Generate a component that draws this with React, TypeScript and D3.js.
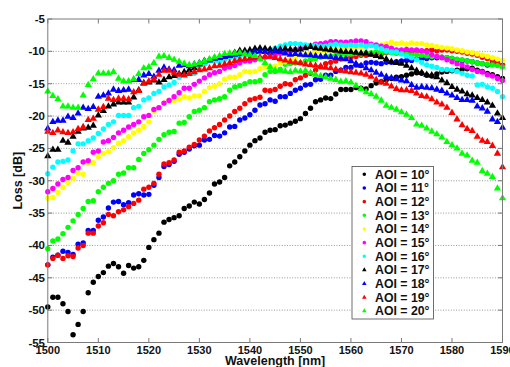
import React, { useEffect, useRef } from 'react';
import * as d3 from 'd3';

// wavelength samples [nm]
const wavelengths = [
  1500, 1501, 1502, 1503, 1504, 1505, 1506, 1507, 1508, 1509,
  1510, 1511, 1512, 1513, 1514, 1515, 1516, 1517, 1518, 1519,
  1520, 1521, 1522, 1523, 1524, 1525, 1526, 1527, 1528, 1529,
  1530, 1531, 1532, 1533, 1534, 1535, 1536, 1537, 1538, 1539,
  1540, 1541, 1542, 1543, 1544, 1545, 1546, 1547, 1548, 1549,
  1550, 1551, 1552, 1553, 1554, 1555, 1556, 1557, 1558, 1559,
  1560, 1561, 1562, 1563, 1564, 1565, 1566, 1567, 1568, 1569,
  1570, 1571, 1572, 1573, 1574, 1575, 1576, 1577, 1578, 1579,
  1580, 1581, 1582, 1583, 1584, 1585, 1586, 1587, 1588, 1589,
  1590,
];

// loss [dB] per angle of incidence
const aoi10 = [
  -49.5, -48.0, -48.0, -49.0, -50.2, -53.8, -52.2, -50.2, -47.3, -45.7,
  -44.8, -44.2, -43.2, -42.8, -43.3, -44.3, -43.1, -43.5, -43.3, -42.3,
  -40.3, -39.1, -38.1, -36.4, -36.0, -35.7, -35.4, -34.3, -33.9, -33.3,
  -33.6, -32.9, -31.9, -30.5, -30.2, -29.5, -27.7, -27.1, -26.3, -25.4,
  -24.5, -23.8, -23.4, -22.5, -22.2, -22.1, -21.5, -21.4, -21.1, -20.8,
  -20.4, -19.6, -18.8, -17.8, -17.5, -17.2, -17.3, -16.6, -15.9, -15.9,
  -15.9, -15.6, -15.7, -15.8, -15.3, -14.9, -14.7, -14.4, -14.2, -14.0,
  -13.9, -13.7, -13.5, -13.3, -13.4, -13.7, -13.8, -13.5, -13.2, -13.1,
  -13.0, -12.9, -12.8, -12.7, -12.6, -12.9, -13.1, -13.4, -13.6, -13.9,
  -14.2,
];
const aoi11 = [
  -43.0, -41.8, -41.5, -40.9, -41.1, -41.4, -39.8, -39.6, -37.7, -37.7,
  -36.1, -35.6, -34.2, -33.3, -33.2, -33.7, -33.4, -32.2, -32.0, -32.2,
  -32.1, -30.7, -29.5, -27.8, -27.5, -27.0, -25.9, -25.6, -25.1, -24.6,
  -24.5, -23.7, -23.6, -23.0, -23.1, -22.6, -21.7, -21.6, -20.6, -20.3,
  -19.8, -19.1, -18.3, -18.1, -17.5, -17.7, -17.0, -17.0, -16.5, -16.0,
  -15.7, -15.2, -15.1, -14.4, -14.3, -13.7, -13.7, -13.1, -12.9, -12.5,
  -12.5, -12.1, -12.2, -11.8, -11.7, -11.8, -11.9, -11.7, -11.7, -11.6,
  -11.5, -11.4, -11.4, -11.2, -11.1, -11.1, -11.0, -11.0, -10.9, -11.0,
  -11.1, -11.3, -11.4, -11.5, -11.6, -11.8, -11.9, -12.1, -12.0, -12.1,
  -12.2,
];
const aoi12 = [
  -43.0, -42.0, -41.5, -42.0, -41.6, -41.7, -40.4, -40.0, -38.1, -38.1,
  -37.0, -36.5, -35.2, -35.4, -34.8, -34.5, -34.0, -33.5, -33.0, -31.3,
  -31.0, -30.4, -29.0, -27.4, -27.2, -26.8, -25.6, -25.4, -24.8, -24.4,
  -23.7, -23.1, -22.3, -21.8, -21.3, -20.6, -20.0, -19.3, -18.8, -18.1,
  -17.5, -17.3, -17.1, -16.0, -16.1, -15.9, -15.4, -15.0, -15.1, -14.4,
  -14.1, -13.7, -13.4, -12.9, -12.4, -11.9, -11.7, -11.5, -11.2, -11.1,
  -10.9, -10.8, -10.6, -10.6, -10.4, -10.3, -10.4, -10.2, -10.1, -10.2,
  -10.0, -10.1, -10.0, -9.9, -10.0, -9.9, -9.8, -9.9, -9.8, -9.8,
  -9.9, -10.0, -10.1, -10.3, -10.4, -10.6, -10.9, -11.1, -11.4, -11.7,
  -12.1,
];
const aoi13 = [
  -40.5, -39.3, -39.0, -38.2, -37.2, -36.2, -35.2, -34.3, -33.2, -33.1,
  -31.7, -31.0, -30.4, -30.0, -29.0, -28.8, -28.0, -28.0, -26.7, -25.8,
  -25.2, -24.5, -23.6, -22.9, -22.5, -22.4, -21.1, -21.0, -20.1, -19.3,
  -19.1, -18.7, -17.8, -17.5, -17.3, -17.0, -16.0, -15.5, -15.3, -15.0,
  -14.7, -14.7, -14.5, -13.6, -13.1, -13.1, -12.8, -12.0, -11.9, -11.8,
  -11.8, -11.5, -11.3, -11.1, -10.9, -10.8, -10.7, -10.6, -10.5, -10.5,
  -10.4, -10.3, -10.4, -10.2, -10.2, -10.1, -10.2, -10.1, -10.2, -10.3,
  -10.3, -10.4, -10.5, -10.5, -10.6, -10.7, -10.8, -10.8, -10.9, -11.0,
  -11.1, -11.2, -11.3, -11.5, -11.6, -11.8, -11.9, -12.0, -12.1, -12.2,
  -12.4,
];
const aoi14 = [
  -32.7, -32.6, -31.8, -31.0, -30.3, -29.6, -28.8, -29.0, -27.3, -27.2,
  -26.3, -25.8, -25.5, -24.9, -24.2, -23.8, -23.2, -22.6, -22.2, -21.6,
  -20.9, -19.3, -18.7, -18.0, -17.5, -17.6, -17.4, -17.0, -17.2, -16.9,
  -16.9, -16.2, -15.6, -15.4, -15.0, -14.3, -14.0, -14.0, -13.6, -13.1,
  -13.2, -13.1, -12.7, -12.5, -12.4, -12.3, -11.8, -11.6, -11.3, -11.0,
  -10.7, -10.4, -10.3, -10.2, -10.0, -9.9, -9.8, -9.7, -9.6, -9.6,
  -9.5, -9.4, -9.3, -9.2, -9.1, -9.1, -9.0, -8.8, -8.6, -8.8,
  -8.7, -8.9, -8.7, -8.8, -8.8, -9.0, -9.1, -9.3, -9.4, -9.5,
  -9.6, -9.8, -9.9, -10.1, -10.2, -10.4, -10.6, -10.8, -11.0, -11.2,
  -11.4,
];
const aoi15 = [
  -31.7, -31.2, -30.5, -29.8, -29.5, -28.4, -28.0, -27.1, -26.9, -25.6,
  -25.4, -24.0, -23.8, -23.3, -22.6, -22.2, -21.7, -21.3, -20.9, -20.1,
  -19.9, -19.0, -18.7, -18.0, -17.6, -17.0, -16.4, -15.7, -15.7, -15.1,
  -14.6, -14.1, -13.6, -13.3, -13.1, -12.6, -12.4, -12.2, -11.8, -11.5,
  -11.5, -11.3, -11.1, -10.9, -10.8, -10.6, -10.3, -10.1, -9.9, -9.7,
  -9.5, -9.3, -9.1, -8.9, -8.8, -8.7, -8.5, -8.5, -8.6, -8.6,
  -8.5, -8.4, -8.4, -8.5, -8.9, -9.0, -9.2, -9.3, -9.5, -9.8,
  -9.8, -9.7, -9.8, -9.8, -9.9, -10.1, -10.5, -10.8, -11.0, -11.3,
  -11.6, -11.9, -12.1, -12.4, -12.8, -13.1, -13.2, -13.6, -13.8, -14.2,
  -14.5,
];
const aoi16 = [
  -28.9, -27.9, -27.1, -27.0, -26.8, -25.4, -24.3, -24.3, -23.8, -23.4,
  -22.7, -22.0, -21.3, -20.9, -19.9, -19.9, -19.9, -18.7, -18.5, -17.5,
  -17.2, -16.5, -16.2, -15.5, -15.2, -14.8, -14.0, -13.5, -13.3, -13.4,
  -12.7, -12.0, -11.4, -11.5, -11.6, -11.3, -11.0, -10.9, -10.8, -10.6,
  -10.5, -10.3, -10.1, -9.9, -9.7, -9.5, -9.2, -9.0, -8.8, -8.8,
  -8.9, -9.0, -9.1, -9.1, -9.2, -9.2, -9.0, -8.9, -9.0, -9.1,
  -9.0, -9.1, -9.0, -9.2, -9.1, -9.3, -9.6, -9.9, -10.1, -10.1,
  -10.4, -10.7, -11.0, -11.3, -11.7, -12.1, -12.3, -12.5, -12.8, -12.8,
  -12.9, -13.1, -13.4, -13.7, -13.8, -15.2, -15.1, -15.5, -15.7, -16.2,
  -17.0,
];
const aoi17 = [
  -26.2, -25.2, -25.2, -23.8, -24.1, -23.2, -22.4, -21.9, -21.8, -21.5,
  -19.9, -19.2, -18.5, -18.2, -17.9, -17.9, -17.9, -17.1, -16.0, -14.9,
  -14.8, -14.5, -14.8, -14.4, -14.0, -13.8, -13.5, -13.2, -12.9, -12.6,
  -12.0, -11.5, -11.3, -11.1, -11.0, -10.8, -10.5, -10.2, -9.9, -9.9,
  -9.8, -9.6, -9.5, -9.6, -9.7, -9.7, -9.7, -9.6, -9.7, -9.8,
  -9.7, -9.5, -9.3, -9.5, -9.6, -9.7, -9.8, -9.9, -10.0, -10.1,
  -10.1, -10.2, -10.3, -10.3, -10.5, -10.7, -10.9, -11.2, -11.6, -11.8,
  -11.9, -12.2, -12.6, -13.0, -13.3, -13.6, -13.7, -14.0, -14.5, -14.9,
  -15.5, -15.9, -16.2, -16.6, -16.8, -17.2, -17.5, -17.9, -18.4, -19.6,
  -20.3,
];
const aoi18 = [
  -21.9, -20.9, -20.7, -20.7, -20.1, -20.3, -19.6, -18.7, -18.9, -18.6,
  -17.0, -16.8, -16.5, -15.9, -16.1, -16.0, -15.9, -14.4, -14.4, -13.7,
  -13.5, -13.9, -13.0, -12.5, -12.8, -12.9, -12.2, -12.1, -12.3, -12.0,
  -11.8, -11.5, -11.4, -11.1, -11.0, -10.8, -10.7, -10.5, -10.4, -10.3,
  -10.3, -10.1, -10.0, -10.1, -10.2, -10.0, -10.1, -10.3, -10.5, -10.4,
  -10.5, -10.6, -10.6, -10.7, -10.8, -10.8, -10.9, -11.0, -11.1, -11.2,
  -11.5, -11.9, -12.2, -12.6, -12.9, -13.3, -13.6, -13.9, -14.1, -14.3,
  -14.5, -14.6, -15.2, -15.6, -15.5, -15.6, -15.7, -15.9, -16.1, -16.5,
  -16.8, -17.2, -17.5, -17.5, -17.6, -18.5, -18.8, -19.3, -20.5, -20.9,
  -21.8,
];
const aoi19 = [
  -22.4, -22.6, -22.2, -22.5, -22.6, -22.5, -22.0, -21.7, -20.6, -20.4,
  -19.0, -18.6, -17.3, -17.5, -17.3, -17.3, -17.4, -16.3, -16.1, -15.0,
  -14.6, -14.3, -13.6, -13.0, -13.0, -13.3, -13.6, -13.7, -13.5, -13.2,
  -12.9, -12.8, -12.6, -12.3, -12.2, -12.0, -11.8, -11.5, -11.3, -11.2,
  -11.1, -11.0, -10.9, -10.8, -10.8, -11.0, -11.2, -11.4, -11.6, -11.7,
  -11.8, -12.0, -12.1, -12.2, -12.3, -12.5, -12.6, -12.8, -13.0, -13.1,
  -13.2, -13.3, -13.4, -13.6, -13.9, -14.4, -14.8, -15.0, -15.4, -15.8,
  -16.0, -16.0, -16.1, -16.5, -16.9, -17.0, -17.4, -17.9, -18.2, -18.7,
  -19.5, -20.5, -21.4, -22.0, -22.3, -23.2, -23.8, -24.0, -24.6, -25.8,
  -27.9,
];
const aoi20 = [
  -16.2, -16.9, -17.4, -18.5, -18.5, -18.7, -18.7, -16.8, -15.2, -14.3,
  -13.4, -13.4, -13.4, -13.2, -14.2, -14.6, -14.6, -14.3, -13.5, -12.6,
  -12.4, -11.8, -10.8, -10.7, -11.0, -11.3, -11.6, -11.9, -12.1, -12.0,
  -11.8, -11.5, -11.2, -10.9, -10.7, -10.4, -10.3, -10.3, -10.2, -10.4,
  -10.5, -10.7, -11.2, -11.8, -12.4, -12.9, -13.0, -13.1, -13.2, -13.0,
  -13.1, -13.0, -13.3, -13.6, -13.8, -14.0, -14.2, -14.4, -14.7, -14.6,
  -14.8, -15.3, -15.8, -16.3, -16.6, -17.0, -17.6, -18.4, -18.7, -19.0,
  -19.4, -19.8, -20.3, -21.3, -21.5, -21.9, -22.4, -22.8, -23.3, -24.0,
  -24.5, -25.0, -25.8, -26.1, -26.9, -27.2, -28.5, -28.9, -29.4, -31.2,
  -32.7,
];

const xTicks = [1500, 1510, 1520, 1530, 1540, 1550, 1560, 1570, 1580, 1590];
const yTicks = [-5, -10, -15, -20, -25, -30, -35, -40, -45, -50, -55];
const labels = [
  'AOI = 10°', 'AOI = 11°', 'AOI = 12°', 'AOI = 13°', 'AOI = 14°', 'AOI = 15°',
  'AOI = 16°', 'AOI = 17°', 'AOI = 18°', 'AOI = 19°', 'AOI = 20°',
];
const colors = [
  '#000000', '#0000ff', '#ff0000', '#00ff00', '#ffff00', '#ff00ff',
  '#00ffff', '#000000', '#0000ff', '#ff0000', '#00ff00',
];
const shapes = [
  'circle', 'circle', 'circle', 'circle', 'circle', 'circle',
  'circle', 'triangle', 'triangle', 'triangle', 'triangle',
];
const values = [aoi10, aoi11, aoi12, aoi13, aoi14, aoi15, aoi16, aoi17, aoi18, aoi19, aoi20];

export default function App() {
  const svgRef = useRef<SVGSVGElement | null>(null);

  useEffect(() => {
    const w = 510;
    const h = 367;
    const left = 47.8;
    const right = 502.5;
    const top = 19;
    const bottom = 342.5;
    const font = '"Liberation Sans", Arial, Helvetica, sans-serif';

    const svg = d3.select(svgRef.current);
    svg.selectAll('*').remove();
    svg.attr('width', w).attr('height', h);

    const x = d3.scaleLinear().domain([1500, 1590]).range([left, right]);
    const y = d3.scaleLinear().domain([-55, -5]).range([bottom, top]);

    svg.append('rect').attr('width', w).attr('height', h).attr('fill', '#ffffff');

    // dotted horizontal grid
    svg
      .append('g')
      .selectAll('line')
      .data(yTicks.filter((t) => t !== -5 && t !== -55))
      .join('line')
      .attr('x1', left)
      .attr('x2', right)
      .attr('y1', (d) => y(d))
      .attr('y2', (d) => y(d))
      .attr('stroke', '#7f7f7f')
      .attr('stroke-width', 0.8)
      .attr('stroke-dasharray', '1,1.6');

    const circle = d3.symbol().type(d3.symbolCircle).size(23);
    const tri = d3.symbol().type(d3.symbolTriangle).size(23);

    // data markers
    values.forEach((vals, si) => {
      svg
        .append('g')
        .selectAll('path')
        .data(vals)
        .join('path')
        .attr('d', shapes[si] === 'circle' ? circle() : tri())
        .attr('transform', (d, i) => `translate(${x(wavelengths[i])},${y(d)})`)
        .attr('fill', colors[si]);
    });

    // axes box
    svg
      .append('rect')
      .attr('x', left)
      .attr('y', top)
      .attr('width', right - left)
      .attr('height', bottom - top)
      .attr('fill', 'none')
      .attr('stroke', '#7a7a7a')
      .attr('stroke-width', 1);

    const tickLen = 4.5;
    const ticks = svg.append('g').attr('stroke', '#7a7a7a').attr('stroke-width', 1);
    xTicks.forEach((t) => {
      ticks.append('line').attr('x1', x(t)).attr('x2', x(t)).attr('y1', bottom).attr('y2', bottom - tickLen);
      ticks.append('line').attr('x1', x(t)).attr('x2', x(t)).attr('y1', top).attr('y2', top + tickLen);
    });
    yTicks.forEach((t) => {
      ticks.append('line').attr('x1', left).attr('x2', left + tickLen).attr('y1', y(t)).attr('y2', y(t));
      ticks.append('line').attr('x1', right).attr('x2', right - tickLen).attr('y1', y(t)).attr('y2', y(t));
    });

    // tick labels
    svg
      .append('g')
      .selectAll('text')
      .data(xTicks)
      .join('text')
      .attr('x', (d) => x(d))
      .attr('y', 353.5)
      .attr('text-anchor', 'middle')
      .attr('font-family', font)
      .attr('font-weight', 'bold')
      .attr('font-size', 11)
      .attr('fill', '#111111')
      .text((d) => d);

    svg
      .append('g')
      .selectAll('text')
      .data(yTicks)
      .join('text')
      .attr('x', 45)
      .attr('y', (d) => y(d) + 4)
      .attr('text-anchor', 'end')
      .attr('font-family', font)
      .attr('font-weight', 'bold')
      .attr('font-size', 11.5)
      .attr('fill', '#111111')
      .text((d) => d);

    // axis titles
    svg
      .append('text')
      .attr('x', (left + right) / 2)
      .attr('y', 365)
      .attr('text-anchor', 'middle')
      .attr('font-family', font)
      .attr('font-weight', 'bold')
      .attr('font-size', 12.5)
      .attr('fill', '#111111')
      .text('Wavelength [nm]');

    svg
      .append('text')
      .attr('transform', `translate(22,${(top + bottom) / 2}) rotate(-90)`)
      .attr('text-anchor', 'middle')
      .attr('font-family', font)
      .attr('font-weight', 'bold')
      .attr('font-size', 12.5)
      .attr('fill', '#111111')
      .text('Loss [dB]');

    // legend
    const lg = svg.append('g');
    lg.append('rect')
      .attr('x', 352)
      .attr('y', 166.5)
      .attr('width', 81.5)
      .attr('height', 152.5)
      .attr('fill', '#ffffff')
      .attr('stroke', '#4a4a4a')
      .attr('stroke-width', 0.8);

    const row = d3.scaleLinear().domain([0, 10]).range([174.3, 311]);
    const smallCircle = d3.symbol().type(d3.symbolCircle).size(10);
    const smallTri = d3.symbol().type(d3.symbolTriangle).size(9);
    labels.forEach((lab, i) => {
      lg.append('path')
        .attr('d', shapes[i] === 'circle' ? smallCircle() : smallTri())
        .attr('transform', `translate(364.3,${row(i)})`)
        .attr('fill', colors[i]);
      lg.append('text')
        .attr('x', 375)
        .attr('y', row(i) + 4.3)
        .attr('font-family', font)
        .attr('font-weight', 'bold')
        .attr('font-size', 12.3)
        .attr('fill', '#111111')
        .text(lab);
    });
  }, []);

  return <svg ref={svgRef} style={{ position: 'absolute', left: 0, top: 0 }}></svg>;
}
